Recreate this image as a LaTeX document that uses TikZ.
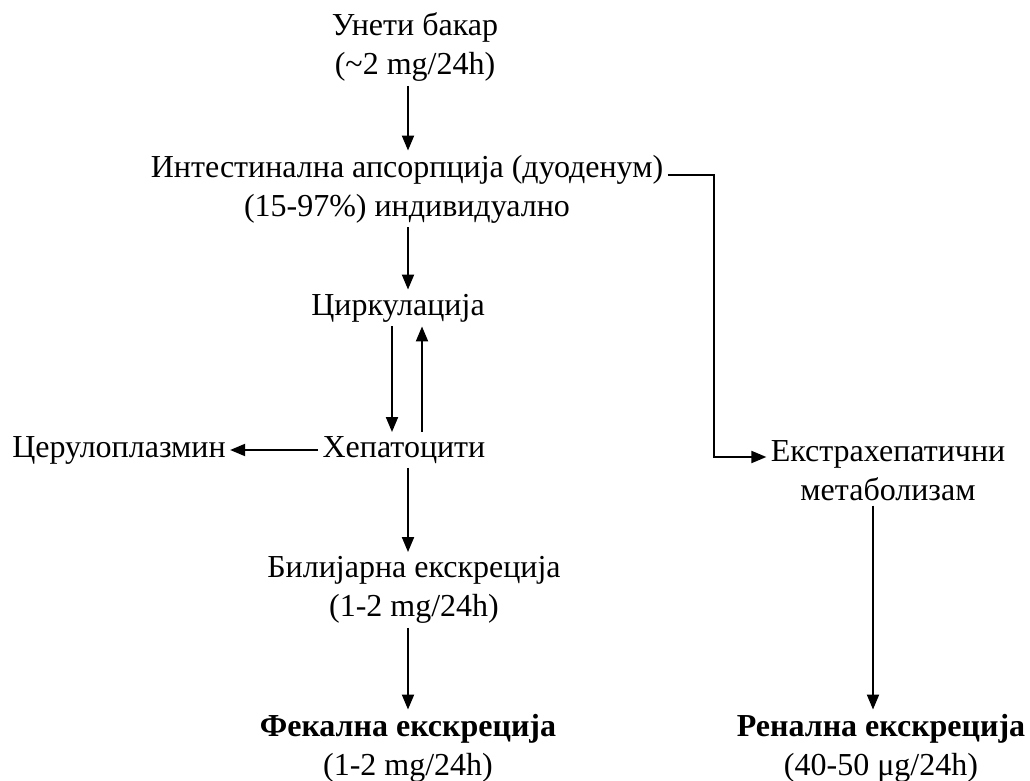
\documentclass[tikz,border=0pt]{standalone}
\usepackage{fontspec}
\setmainfont{Liberation Serif}
\usetikzlibrary{arrows.meta, positioning, calc}

\begin{document}
\begin{tikzpicture}[
    x=0.5pt, y=-0.5pt,
    >={Triangle[length=7.5pt, width=6pt]},
    font=\fontsize{16}{19.5}\selectfont,
    txt/.style={align=center, inner sep=2pt},
    arr/.style={->, line width=1pt},
]
\useasboundingbox (0,0) rectangle (1030,781);

% === Columns ===
\coordinate (mid) at (408,0);
\coordinate (rcol) at (873,0);
\coordinate (bend) at (714,457);

% === Main column ===
\node[txt] (ulaz) at (415,47) {Унети бакар\\(\textasciitilde2 mg/24h)};
\node[txt] (apsor) at (407,189) {Интестинална апсорпција (дуоденум)\\(15-97\%) индивидуално};
\node[txt] (circ) at (398,308) {Циркулација};
\node[txt] (hep) at (404,450) {Хепатоцити};
\node[txt] (cer) at (119,450) {Церулоплазмин};
\node[txt] (bil) at (414,590) {Билијарна екскреција\\(1-2 mg/24h)};
\node[txt] (fek) at (408,748) {\textbf{Фекална екскреција}\\(1-2 mg/24h)};

% === Right column ===
\node[txt] (extra) at (888,471) {Екстрахепатични\\метаболизам};
\node[txt] (ren) at (881,748) {\textbf{Ренална екскреција}\\(40-50 μg/24h)};

% === Arrows ===
\draw[arr] (ulaz.south -| mid) -- (apsor.north -| mid);
\draw[arr] (apsor.south -| mid) -- (circ.north -| mid);
\draw[arr] ([xshift=-8pt]circ.south -| mid) -- ([xshift=-8pt]hep.north -| mid);
\draw[arr] ([xshift=7pt]hep.north -| mid) -- ([xshift=7pt]circ.south -| mid);
\draw[arr] (hep.west) -- (cer.east);
\draw[arr] (hep.south -| mid) -- (bil.north -| mid);
\draw[arr] (bil.south -| mid) -- (fek.north -| mid);

% elbow to the right column
\draw[arr] ([yshift=7pt]apsor.east) -| (bend) -- ([yshift=7pt]extra.west);
\draw[arr] (extra.south -| rcol) -- (ren.north -| rcol);

\end{tikzpicture}
\end{document}
